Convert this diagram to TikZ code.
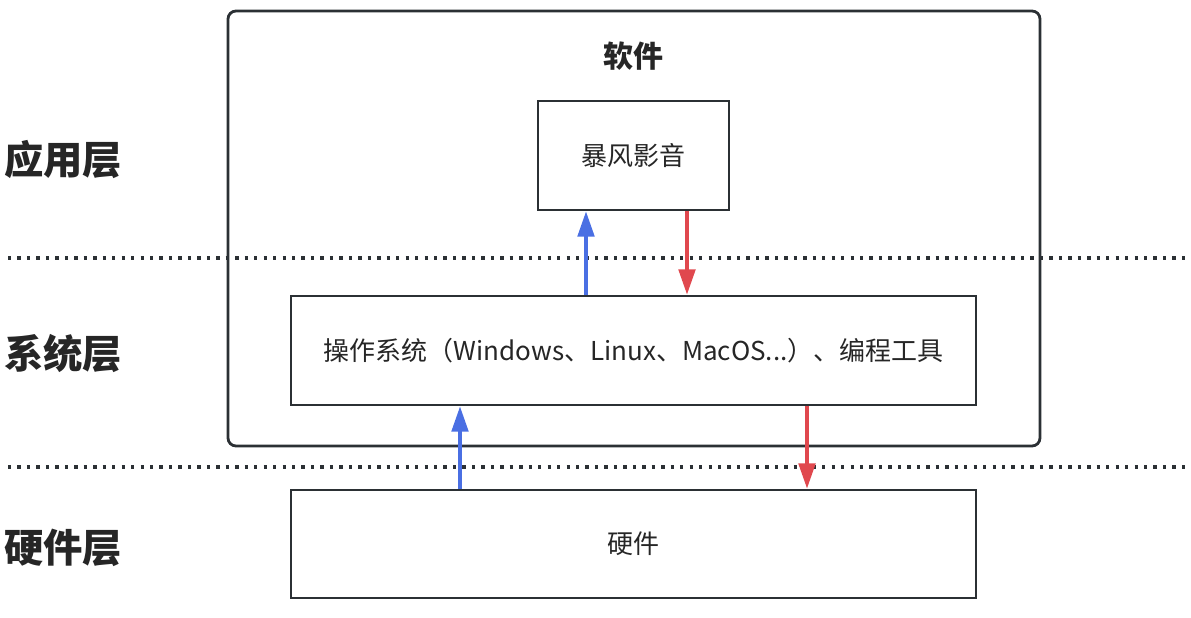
\documentclass[tikz,border=0pt]{standalone}
\usepackage{fontspec}
\setmainfont{Noto Sans CJK SC}
\usetikzlibrary{arrows.meta}
\definecolor{edge}{HTML}{2B3034}
\definecolor{upblue}{HTML}{4A6FE3}
\definecolor{downred}{HTML}{E0484E}
\tikzset{
  box/.style={draw=edge, line width=2.1pt, fill=white, inner sep=0pt, font=\fontsize{19.5pt}{23pt}\selectfont, text=black!85},
  layer/.style={font=\fontsize{29.5pt}{34pt}\selectfont\bfseries, text=black!85},
  sep/.style={draw=edge, line width=2.5pt, dash pattern=on 2.5pt off 4.6pt},
  uparrow/.style={draw=upblue, line width=2.5pt, -{Triangle[width=12.5pt,length=19pt]}, upblue},
  downarrow/.style={draw=downred, line width=2.5pt, -{Triangle[width=12.5pt,length=19pt]}, downred}
}
\begin{document}
\begin{tikzpicture}[x=0.75pt,y=-0.75pt]
\useasboundingbox (0,0) rectangle (1191,617);
% dotted separators
\coordinate (s1a) at (8,258);
\coordinate (s1b) at (1185,258);
\coordinate (s2a) at (8,467);
\coordinate (s2b) at (1185,467);
\draw[sep] (s1a) -- (s1b);
\draw[sep] (s2a) -- (s2b);
% software container
\node[draw=edge, line width=2.1pt, rounded corners=6pt, minimum width=812*0.75pt, minimum height=435*0.75pt, inner sep=0pt] (sw) at (634,228.5) {};
\node[font=\fontsize{22.5pt}{26pt}\selectfont\bfseries, text=black!85] (swt) at (633,56) {软件};
% boxes
\node[box, minimum width=191*0.75pt, minimum height=109*0.75pt] (app) at (633.5,155.5) {暴风影音};
\node[box, minimum width=685*0.75pt, minimum height=109*0.75pt] (os) at (633.5,350.5) {操作系统（Windows、Linux、MacOS...）、编程工具};
\node[box, minimum width=685*0.75pt, minimum height=108*0.75pt] (hw) at (633.5,544) {硬件};
% layer labels
\node[layer] (l1) at (63,160) {应用层};
\node[layer] (l2) at (63,354) {系统层};
\node[layer] (l3) at (63,548) {硬件层};
% arrows
\draw[uparrow] (os.north -| 586,0) -- (app.south -| 586,0);
\draw[downarrow] (app.south -| 687,0) -- (os.north -| 687,0);
\draw[uparrow] (hw.north -| 460,0) -- (os.south -| 460,0);
\draw[downarrow] (os.south -| 807,0) -- (hw.north -| 807,0);
\end{tikzpicture}
\end{document}
